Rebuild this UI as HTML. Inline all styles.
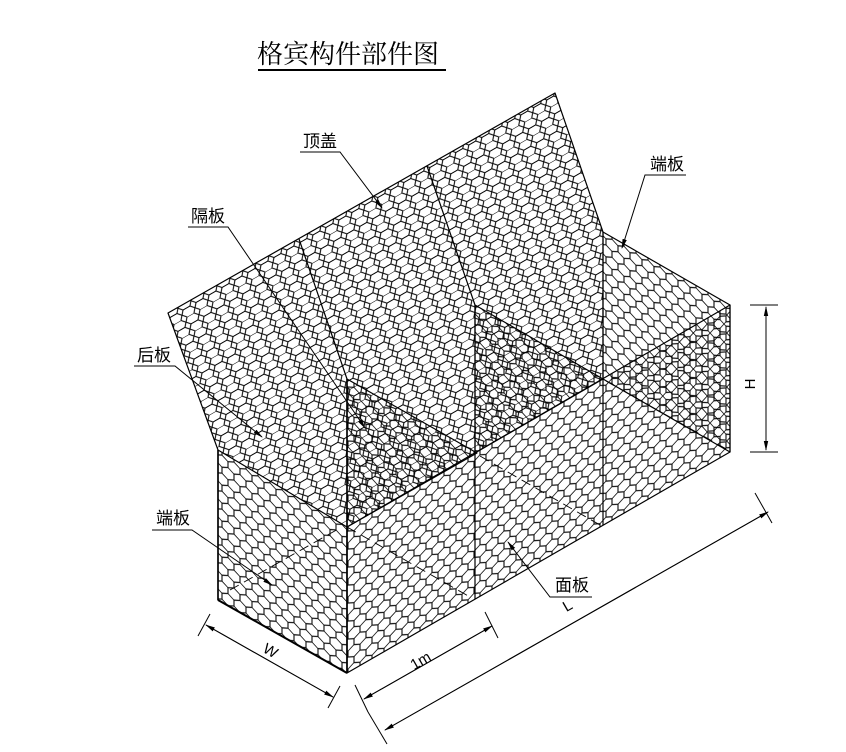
<!DOCTYPE html>
<html><head><meta charset="utf-8"><style>
html,body{margin:0;padding:0;background:#fff;}
svg{display:block;}
text{font-family:"Liberation Sans","Noto Sans CJK SC",sans-serif;fill:#000;}
</style></head><body>
<svg width="846" height="752" viewBox="0 0 846 752" xmlns="http://www.w3.org/2000/svg">
<defs>
<pattern id="hexV" width="12" height="18" patternUnits="userSpaceOnUse">
<path d="M6,0 L6,3 L0,6 L0,12 L6,15 L6,18 M6,3 L12,6 L12,12 L6,15" fill="none" stroke="#000" stroke-width="1"/>
</pattern>
<pattern id="pL" href="#hexV" patternTransform="skewY(-30)"/>
<pattern id="pR" href="#hexV" patternTransform="skewY(30)"/>
<pattern id="pLid" width="15" height="16" patternUnits="userSpaceOnUse" patternTransform="rotate(-30)">
<path d="M0,4 L3.5,0 L11.5,0 L15,4 M0,4 L3.5,8 L11.5,8 L15,4 M3.5,8 L0,12 L3.5,16 M11.5,8 L15,12 L11.5,16" fill="none" stroke="#000" stroke-width="1"/>
</pattern>
<marker id="ar" markerWidth="10" markerHeight="6" refX="9" refY="3" orient="auto" markerUnits="userSpaceOnUse"><path d="M0,0.8 L10,3 L0,5.2 Z" fill="#000"/></marker>
</defs>

<text x="257" y="63" font-size="26" style="font-family:'Noto Serif CJK SC',serif">格宾构件部件图</text>
<line x1="258" y1="70" x2="446" y2="70" stroke="#000" stroke-width="2"/>

<g stroke="#000" stroke-width="1.2" stroke-linejoin="round">
<polygon points="218,450 168,313 555,93 603,232 603,379 347,527" fill="url(#pLid)" stroke="none"/>
<polyline points="218,450 168,313 555,93 603,232" fill="none"/>
<line x1="299" y1="239" x2="347" y2="379"/>
<line x1="427" y1="166" x2="475" y2="305"/>
<polygon points="347,379 477,453 347,527" fill="url(#pR)"/>
<polygon points="475,305 603,379 475,453" fill="url(#pR)"/>
<polygon points="603,232 730,305 730,452 603,379" fill="url(#pR)"/>
<polygon points="218,450 347,527 347,673 218,600" fill="url(#pR)"/>
<polygon points="347,527 730,305 730,452 347,673" fill="url(#pL)"/>
<line x1="347" y1="379" x2="347" y2="673" stroke-width="1.6"/>
<line x1="475" y1="305" x2="475" y2="599"/>
<line x1="603" y1="232" x2="603" y2="525"/>
<line x1="218" y1="450" x2="218" y2="600" stroke-width="1.6"/>
<line x1="218" y1="600" x2="347" y2="673" stroke-width="2"/>
</g>
<g stroke="#000" stroke-width="0.9" stroke-dasharray="10,6" fill="none">
<line x1="230" y1="590" x2="340" y2="528"/>
<line x1="347" y1="527" x2="470" y2="597"/>
<line x1="480" y1="456" x2="600" y2="525"/>
<line x1="606" y1="381" x2="728" y2="450"/>
</g>

<g stroke="#000" stroke-width="1" fill="none">
<polyline points="300,152 340,152 382,208" marker-end="url(#ar)"/>
<polyline points="188,227 228,227 365,428" marker-end="url(#ar)"/>
<polyline points="134,366 175,366 262,437" marker-end="url(#ar)"/>
<polyline points="152,530 192,530 272,585" marker-end="url(#ar)"/>
<polyline points="686,175 645,175 622,248" marker-end="url(#ar)"/>
<polyline points="592,597 550,597 508,542" marker-end="url(#ar)"/>
<line x1="750" y1="305" x2="778" y2="305"/>
<line x1="750" y1="452" x2="778" y2="452"/>
<line x1="766" y1="307" x2="766" y2="450" marker-end="url(#ar)"/>
<line x1="766" y1="450" x2="766" y2="307" marker-end="url(#ar)"/>
<line x1="198" y1="636" x2="210" y2="614"/>
<line x1="328" y1="708" x2="340" y2="686"/>
<line x1="206" y1="625" x2="333" y2="697" marker-end="url(#ar)"/>
<line x1="333" y1="697" x2="206" y2="625" marker-end="url(#ar)"/>
<line x1="355" y1="685" x2="368" y2="712"/>
<line x1="485" y1="612" x2="498" y2="638"/>
<line x1="364" y1="699" x2="492" y2="626" marker-end="url(#ar)"/>
<line x1="492" y1="626" x2="364" y2="699" marker-end="url(#ar)"/>
<line x1="368" y1="712" x2="387" y2="744"/>
<line x1="755" y1="493" x2="772" y2="523"/>
<line x1="385" y1="730" x2="768" y2="512" marker-end="url(#ar)"/>
<line x1="768" y1="512" x2="385" y2="730" marker-end="url(#ar)"/>
</g>

<g font-size="17" style="font-family:'Noto Serif CJK SC',serif">
<text x="303" y="147">顶盖</text>
<text x="191" y="222">隔板</text>
<text x="137" y="361">后板</text>
<text x="156" y="524">端板</text>
<text x="650" y="170">端板</text>
<text x="555" y="591">面板</text>
</g>
<text x="0" y="0" font-size="15" transform="translate(755,384) rotate(-90)" text-anchor="middle">H</text>
<text x="0" y="0" font-size="15" transform="translate(268,655) rotate(30)" text-anchor="middle">W</text>
<text x="0" y="0" font-size="15" transform="translate(423,665) rotate(-30)" text-anchor="middle">1m</text>
<text x="0" y="0" font-size="15" transform="translate(570,610) rotate(-30)" text-anchor="middle">L</text>
</svg>
</body></html>
